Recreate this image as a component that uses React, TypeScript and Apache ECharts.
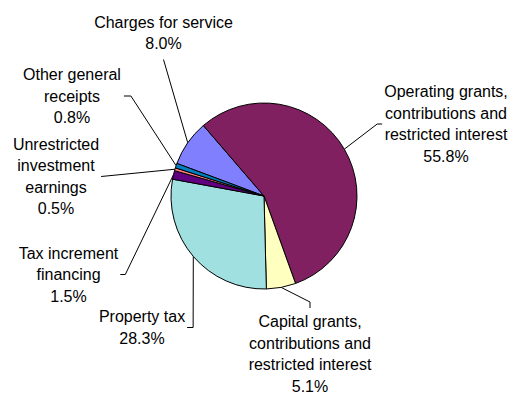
import React, { useEffect, useRef } from 'react';
import * as echarts from 'echarts';

// Slices in drawing order (clockwise)
const categories = [
  'Charges for service',
  'Operating grants,\ncontributions and\nrestricted interest',
  'Capital grants,\ncontributions and\nrestricted interest',
  'Property tax',
  'Tax increment\nfinancing',
  'Unrestricted\ninvestment\nearnings',
  'Other general\nreceipts',
];
const shares = [8.0, 55.8, 5.1, 28.3, 1.5, 0.5, 0.8];
const sliceColors = ['#8080FF', '#802060', '#FFFFC0', '#A0E0E0', '#600080', '#FF8080', '#0080C0'];

// Label block centres and leader-line attachment side
const labelSpec = [
  { x: 163.5, y: 33, side: 'bottom', gap: 5, stub: 0 },
  { x: 446, y: 124, side: 'left', gap: 2, stub: 5 },
  { x: 310, y: 354, side: 'top', gap: 3, stub: 6 },
  { x: 142, y: 327.5, side: 'right', gap: 2, stub: 6 },
  { x: 68.5, y: 274.5, side: 'right', gap: 2, stub: 5 },
  { x: 56, y: 176.5, side: 'right', gap: 2, stub: 0 },
  { x: 72, y: 96, side: 'right', gap: 3, stub: 7 },
];

export default function App() {
  const ref = useRef<HTMLDivElement>(null);
  useEffect(() => {
    if (!ref.current) return;
    const chart = echarts.init(ref.current, undefined, { renderer: 'svg' });
    const data = categories.map((name, i) => ({
      name,
      value: shares[i],
      itemStyle: { color: sliceColors[i] },
    }));
    chart.setOption({
      animation: false,
      backgroundColor: '#ffffff',
      series: [
        {
          type: 'pie',
          center: [264, 196],
          radius: 93,
          startAngle: 159.5,
          clockwise: true,
          avoidLabelOverlap: false,
          data,
          itemStyle: { borderColor: '#000000', borderWidth: 1 },
          label: {
            show: true,
            position: 'outside',
            color: '#000000',
            fontFamily: '"Liberation Sans", Arial, sans-serif',
            fontSize: 16,
            lineHeight: 21.5,
            align: 'center',
            formatter: (p: any) => `${p.name}\n${Number(p.value).toFixed(1)}%`,
          },
          labelLine: {
            show: true,
            lineStyle: { color: '#000000', width: 1 },
          },
          labelLayout: (params: any) => {
            const s = labelSpec[params.dataIndex];
            const w = params.labelRect.width;
            const h = params.labelRect.height;
            let p2: number[];
            let p1: number[];
            if (s.side === 'bottom') {
              p2 = [s.x, s.y + h / 2 + s.gap];
              p1 = [p2[0], p2[1] + s.stub];
            } else if (s.side === 'top') {
              p2 = [s.x, s.y - h / 2 - s.gap];
              p1 = [p2[0], p2[1] - s.stub];
            } else if (s.side === 'left') {
              p2 = [s.x - w / 2 - s.gap, s.y];
              p1 = [p2[0] - s.stub, p2[1]];
            } else {
              p2 = [s.x + w / 2 + s.gap, s.y];
              p1 = [p2[0] + s.stub, p2[1]];
            }
            const p0 = params.labelLinePoints ? params.labelLinePoints[0] : p1;
            return {
              x: s.x,
              y: s.y,
              align: 'center',
              verticalAlign: 'middle',
              labelLinePoints: [p0, p1, p2],
            };
          },
          emphasis: { disabled: true },
        },
      ],
    });
    return () => chart.dispose();
  }, []);
  return (
    <div
      ref={ref}
      style={{ position: 'fixed', left: 0, top: 0, width: 513, height: 395, background: '#fff' }}
    />
  );
}
